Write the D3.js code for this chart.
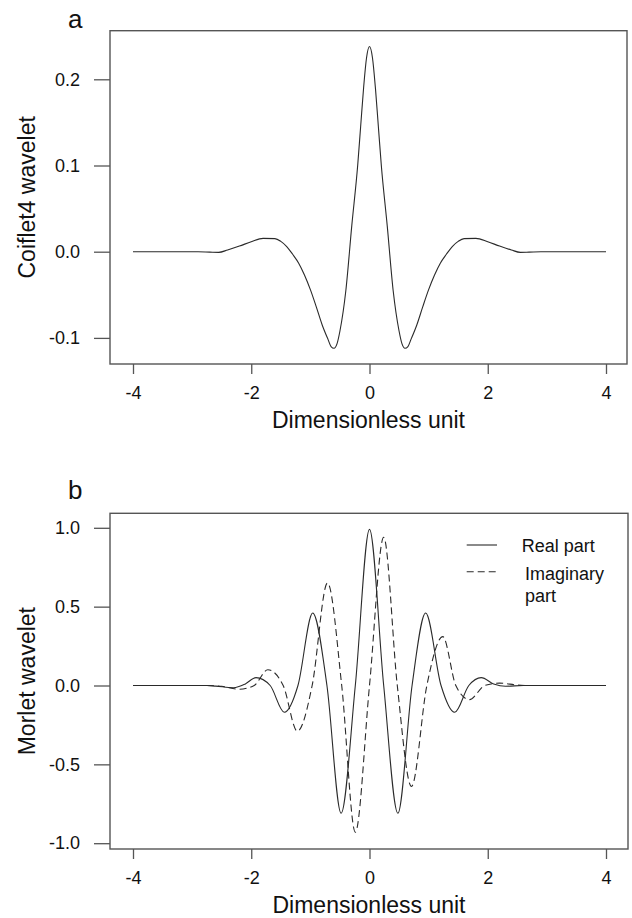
<!DOCTYPE html>
<html>
<head>
<meta charset="utf-8">
<script src="https://cdn.jsdelivr.net/npm/d3@7"></script>
<style>
  html, body { margin: 0; padding: 0; background: #fff; }
  svg { display: block; }
  text { font-family: "Liberation Sans", Arial, sans-serif; fill: #111; }
</style>
</head>
<body>
<svg id="chart" width="632" height="918"></svg>
<script>
// ---- Data ----
// Panel a: Coiflet4 wavelet
const coifX = [-4, -3.5, -2.9, -2.7, -2.55, -2.4, -2.2, -2.0, -1.8, -1.6, -1.5, -1.4, -1.3, -1.2, -1.1, -1.0, -0.9, -0.8, -0.7, -0.65, -0.6, -0.55, -0.5, -0.4, -0.3, -0.2, -0.15, -0.1, -0.05, 0,
               0.05, 0.1, 0.15, 0.2, 0.3, 0.4, 0.5, 0.55, 0.6, 0.65, 0.7, 0.8, 0.9, 1.0, 1.1, 1.2, 1.3, 1.4, 1.5, 1.6, 1.8, 2.0, 2.2, 2.4, 2.55, 2.7, 2.9, 3.5, 4];
const coifY = [0, 0, 0, -0.0005, -0.0008, 0.002, 0.0065, 0.0116, 0.0155, 0.0152, 0.012, 0.006, -0.003, -0.013, -0.027, -0.044, -0.064, -0.085, -0.102, -0.110, -0.112, -0.107, -0.092, -0.045, 0.03, 0.10, 0.145, 0.19, 0.225, 0.238,
               0.225, 0.19, 0.145, 0.10, 0.03, -0.045, -0.092, -0.107, -0.112, -0.110, -0.102, -0.085, -0.064, -0.044, -0.027, -0.013, -0.003, 0.006, 0.012, 0.0152, 0.0155, 0.0116, 0.0065, 0.002, -0.0008, -0.0005, 0, 0, 0];

// Panel b: Morlet wavelet
const realX = [-4, -2.75, -2.6, -2.3, -2.1, -1.92, -1.68, -1.44, -1.21, -0.96, -0.72, -0.48, -0.24, 0, 0.24, 0.48, 0.72, 0.95, 1.21, 1.44, 1.68, 1.89, 2.1, 2.3, 2.6, 4];
const realY = [0, 0, -0.004, -0.014, 0.01, 0.05, 0, -0.17, 0, 0.46, 0, -0.81, 0, 0.99, 0, -0.81, 0, 0.46, 0, -0.17, 0, 0.05, 0.01, -0.005, 0, 0];

const imagX = [-2.75, -2.5, -2.21, -1.95, -1.72, -1.46, -1.22, -0.97, -0.71, -0.47, -0.24, 0, 0.24, 0.47, 0.71, 0.97, 1.24, 1.46, 1.69, 1.95, 2.2, 2.5, 2.65];
const imagY = [0, -0.005, -0.024, 0, 0.10, 0, -0.29, 0, 0.65, 0, -0.93, 0, 0.94, 0, -0.64, 0, 0.31, 0, -0.09, 0, 0.015, 0.003, 0];

const xTicks = [-4, -2, 0, 2, 4];
const yTicksA = [-0.1, 0.0, 0.1, 0.2];
const yTicksB = [-1.0, -0.5, 0.0, 0.5, 1.0];
const legendLabels = [["Real part"], ["Imaginary", "part"]];

// ---- Drawing ----
const svg = d3.select("#chart");
const lineColor = "#2a2a2a";
const frameColor = "#555";

function panel(opts) {
  const g = svg.append("g");
  const x = d3.scaleLinear().domain([-4, 4]).range([133, 606]);
  const y = d3.scaleLinear().domain(opts.yDomain).range(opts.yRange);

  // frame
  g.append("rect")
    .attr("x", opts.box.left).attr("y", opts.box.top)
    .attr("width", opts.box.right - opts.box.left)
    .attr("height", opts.box.bottom - opts.box.top)
    .attr("fill", "none").attr("stroke", frameColor).attr("stroke-width", 1.4);

  // y axis
  const ya = g.append("g")
    .attr("transform", `translate(${opts.box.left},0)`)
    .call(d3.axisLeft(y).tickValues(opts.yTicks).tickSize(16).tickPadding(14)
      .tickFormat(d => d.toFixed(1).replace("\u2212", "-")));
  ya.select(".domain").remove();
  ya.selectAll(".tick line").attr("stroke", frameColor).attr("stroke-width", 1.3);
  ya.selectAll(".tick text").attr("font-size", 18).attr("font-family", "Liberation Sans, Arial, sans-serif").attr("fill", "#111");

  // x axis
  const xa = g.append("g")
    .attr("transform", `translate(0,${opts.box.bottom})`)
    .call(d3.axisBottom(x).tickValues(xTicks).tickSize(10).tickPadding(12)
      .tickFormat(d => String(d)));
  xa.select(".domain").remove();
  xa.selectAll(".tick line").attr("stroke", frameColor).attr("stroke-width", 1.3);
  xa.selectAll(".tick text").attr("font-size", 18).attr("font-family", "Liberation Sans, Arial, sans-serif").attr("fill", "#111");

  // titles
  g.append("text")
    .attr("x", (opts.box.left + opts.box.right) / 2)
    .attr("y", opts.box.bottom + 64)
    .attr("text-anchor", "middle").attr("font-size", 23)
    .text("Dimensionless unit");
  g.append("text")
    .attr("transform", `translate(35,${(opts.box.top + opts.box.bottom) / 2}) rotate(-90)`)
    .attr("text-anchor", "middle").attr("font-size", 23)
    .text(opts.yTitle);
  g.append("text")
    .attr("x", 68).attr("y", opts.labelY)
    .attr("font-size", 26)
    .text(opts.label);

  return { g, x, y };
}

// Panel a
const A = panel({
  box: { left: 110, right: 627, top: 30.7, bottom: 364 },
  yDomain: [0, 0.2], yRange: [251.7, 79.3],
  yTicks: yTicksA, yTitle: "Coiflet4 wavelet", label: "a", labelY: 28
});
A.g.append("path")
  .datum(d3.zip(coifX, coifY))
  .attr("fill", "none").attr("stroke", lineColor).attr("stroke-width", 1.1)
  .attr("d", d3.line().x(d => A.x(d[0])).y(d => A.y(d[1])).curve(d3.curveMonotoneX));

// Panel b
const B = panel({
  box: { left: 110, right: 628, top: 513.3, bottom: 849 },
  yDomain: [-1, 1], yRange: [843.2, 527.8],
  yTicks: yTicksB, yTitle: "Morlet wavelet", label: "b", labelY: 499
});
B.g.append("path")
  .datum(d3.zip(imagX, imagY))
  .attr("fill", "none").attr("stroke", lineColor).attr("stroke-width", 1.1)
  .attr("stroke-dasharray", "7,4")
  .attr("d", d3.line().x(d => B.x(d[0])).y(d => B.y(d[1])).curve(d3.curveMonotoneX));
B.g.append("path")
  .datum(d3.zip(realX, realY))
  .attr("fill", "none").attr("stroke", lineColor).attr("stroke-width", 1.1)
  .attr("d", d3.line().x(d => B.x(d[0])).y(d => B.y(d[1])).curve(d3.curveMonotoneX));

// Legend
const leg = B.g.append("g");
leg.append("line").attr("x1", 466.7).attr("x2", 497).attr("y1", 545).attr("y2", 545)
  .attr("stroke", lineColor).attr("stroke-width", 1.1);
leg.append("line").attr("x1", 466.7).attr("x2", 497).attr("y1", 571.7).attr("y2", 571.7)
  .attr("stroke", lineColor).attr("stroke-width", 1.1).attr("stroke-dasharray", "7,4");
leg.append("text").attr("x", 521.7).attr("y", 551.7).attr("font-size", 18).text(legendLabels[0][0]);
leg.append("text").attr("x", 525).attr("y", 580).attr("font-size", 18).text(legendLabels[1][0]);
leg.append("text").attr("x", 525).attr("y", 601.7).attr("font-size", 18).text(legendLabels[1][1]);
</script>
</body>
</html>
